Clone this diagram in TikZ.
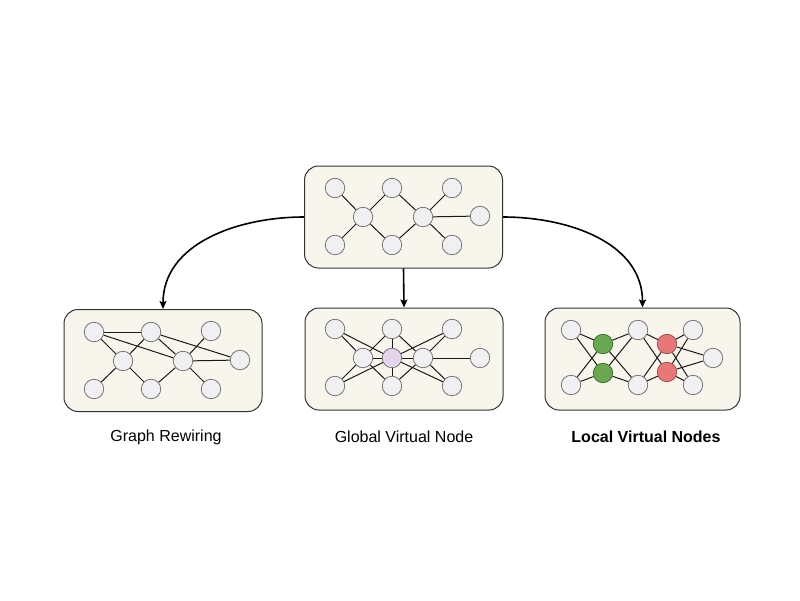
\documentclass[tikz,border=0pt]{standalone}
\usepackage{fontspec}
\setmainfont{Liberation Sans}
\usepackage{tikz}
\usetikzlibrary{shapes,arrows,arrows.meta,positioning}

\definecolor{panelfill}{RGB}{248,246,236}
\definecolor{nodefill}{RGB}{240,240,243}
\definecolor{nodeline}{RGB}{110,110,110}
\definecolor{greenfill}{RGB}{106,168,79}
\definecolor{greenline}{RGB}{60,110,45}
\definecolor{redfill}{RGB}{232,120,120}
\definecolor{redline}{RGB}{165,75,75}
\definecolor{violetfill}{RGB}{228,212,236}

\begin{document}
\begin{tikzpicture}[x=1pt,y=-1pt]
		\tikzstyle{Panel}	= [rectangle, rounded corners=14pt, draw=black!80, fill=panelfill, line width=1pt, minimum width=198pt, minimum height=102pt, inner sep=0pt]
		\tikzstyle{Vertex}	= [circle, draw=nodeline, fill=nodefill, line width=0.75pt, minimum size=19.5pt, inner sep=0pt]
		\tikzstyle{GVN}		= [fill=violetfill]
		\tikzstyle{LVNa}	= [draw=greenline, fill=greenfill]
		\tikzstyle{LVNb}	= [draw=redline, fill=redfill]
		\tikzstyle{Edge}	= [black!90, line width=1pt]
		\tikzstyle{Flow}	= [-{Stealth[length=8pt, width=7pt, inset=1.5pt]}, black, line width=1.6pt]
		\tikzstyle{Caption}	= [font=\fontsize{16}{19}\selectfont]

		\useasboundingbox (0,0) rectangle (800,600);

		% panels
		\node (orig) at (403.5,217) [Panel] {};
		\node (rew) at (163,360.5) [Panel] {};
		\node (glob) at (404,359) [Panel] {};
		\node (loc) at (642.5,359) [Panel, minimum width=195pt] {};

		\draw (orig.west) to [out=180, in=90] (rew.north) [Flow];
		\draw (orig.south) to (glob.north) [Flow];
		\draw (orig.east) to [out=0, in=90] (loc.north) [Flow];

		% input graph
		\node (o1) at (335,188) [Vertex] {};
		\node (o2) at (392,188) [Vertex] {};
		\node (o3) at (452,188) [Vertex] {};
		\node (o4) at (363,217) [Vertex] {};
		\node (o5) at (423,217) [Vertex] {};
		\node (o6) at (480,216) [Vertex] {};
		\node (o7) at (335,245) [Vertex] {};
		\node (o8) at (392,245) [Vertex] {};
		\node (o9) at (452,245) [Vertex] {};

		\draw [-] (o1) to (o4) [Edge];
		\draw [-] (o7) to (o4) [Edge];
		\draw [-] (o4) to (o2) [Edge];
		\draw [-] (o4) to (o8) [Edge];
		\draw [-] (o2) to (o5) [Edge];
		\draw [-] (o8) to (o5) [Edge];
		\draw [-] (o5) to (o3) [Edge];
		\draw [-] (o5) to (o9) [Edge];
		\draw [-] (o5) to (o6) [Edge];

		% graph rewiring
		\node (r1) at (94,332) [Vertex] {};
		\node (r2) at (151,332) [Vertex] {};
		\node (r3) at (211,331) [Vertex] {};
		\node (r4) at (123,361) [Vertex] {};
		\node (r5) at (183,361) [Vertex] {};
		\node (r6) at (240,360) [Vertex] {};
		\node (r7) at (94,389) [Vertex] {};
		\node (r8) at (151,389) [Vertex] {};
		\node (r9) at (211,389) [Vertex] {};

		\draw [-] (r1) to (r4) [Edge];
		\draw [-] (r7) to (r4) [Edge];
		\draw [-] (r4) to (r2) [Edge];
		\draw [-] (r4) to (r8) [Edge];
		\draw [-] (r2) to (r5) [Edge];
		\draw [-] (r8) to (r5) [Edge];
		\draw [-] (r5) to (r3) [Edge];
		\draw [-] (r5) to (r9) [Edge];
		\draw [-] (r5) to (r6) [Edge];
		\draw [-] (r1) to (r2) [Edge];
		\draw [-] (r1) to (r5) [Edge];
		\draw [-] (r2) to (r6) [Edge];

		% global virtual node
		\node (g1) at (335,329) [Vertex] {};
		\node (g2) at (392,329) [Vertex] {};
		\node (g3) at (452,329) [Vertex] {};
		\node (g4) at (363,358) [Vertex] {};
		\node (g5) at (423,358) [Vertex] {};
		\node (g6) at (480,358) [Vertex] {};
		\node (g7) at (335,386) [Vertex] {};
		\node (g8) at (392,386) [Vertex] {};
		\node (g9) at (452,386) [Vertex] {};
		\node (gv) at (392,358) [Vertex][GVN] {};

		\draw [-] (g1) to (g4) [Edge];
		\draw [-] (g7) to (g4) [Edge];
		\draw [-] (g4) to (g2) [Edge];
		\draw [-] (g4) to (g8) [Edge];
		\draw [-] (g2) to (g5) [Edge];
		\draw [-] (g8) to (g5) [Edge];
		\draw [-] (g5) to (g3) [Edge];
		\draw [-] (g5) to (g9) [Edge];
		\draw [-] (g5) to (g6) [Edge];
		\draw [-] (gv) to (g1) [Edge];
		\draw [-] (gv) to (g2) [Edge];
		\draw [-] (gv) to (g3) [Edge];
		\draw [-] (gv) to (g4) [Edge];
		\draw [-] (gv) to (g5) [Edge];
		\draw [-] (gv) to (g7) [Edge];
		\draw [-] (gv) to (g8) [Edge];
		\draw [-] (gv) to (g9) [Edge];

		% local virtual nodes
		\node (l1) at (571,330) [Vertex] {};
		\node (l2) at (638,330) [Vertex] {};
		\node (l3) at (693,330) [Vertex] {};
		\node (l6) at (713,358) [Vertex] {};
		\node (l7) at (571,385) [Vertex] {};
		\node (l8) at (638,385) [Vertex] {};
		\node (l9) at (693,385) [Vertex] {};
		\node (la1) at (603,344) [Vertex][LVNa] {};
		\node (la2) at (603,373) [Vertex][LVNa] {};
		\node (lb1) at (667,344) [Vertex][LVNb] {};
		\node (lb2) at (667,372) [Vertex][LVNb] {};

		\draw [-] (la1) to (l1) [Edge];
		\draw [-] (la1) to (l2) [Edge];
		\draw [-] (la1) to (l7) [Edge];
		\draw [-] (la1) to (l8) [Edge];
		\draw [-] (la2) to (l1) [Edge];
		\draw [-] (la2) to (l2) [Edge];
		\draw [-] (la2) to (l7) [Edge];
		\draw [-] (la2) to (l8) [Edge];
		\draw [-] (lb1) to (l2) [Edge];
		\draw [-] (lb1) to (l8) [Edge];
		\draw [-] (lb1) to (l3) [Edge];
		\draw [-] (lb1) to (l9) [Edge];
		\draw [-] (lb1) to (l6) [Edge];
		\draw [-] (lb2) to (l2) [Edge];
		\draw [-] (lb2) to (l8) [Edge];
		\draw [-] (lb2) to (l3) [Edge];
		\draw [-] (lb2) to (l9) [Edge];
		\draw [-] (lb2) to (l6) [Edge];

		% captions
		\node (capr) at (166,437) [Caption] {Graph Rewiring};
		\node (capg) at (404,437) [Caption] {Global Virtual Node};
		\node (capl) at (646,437) [Caption] {\bfseries Local Virtual Nodes};
	\end{tikzpicture}
\end{document}
